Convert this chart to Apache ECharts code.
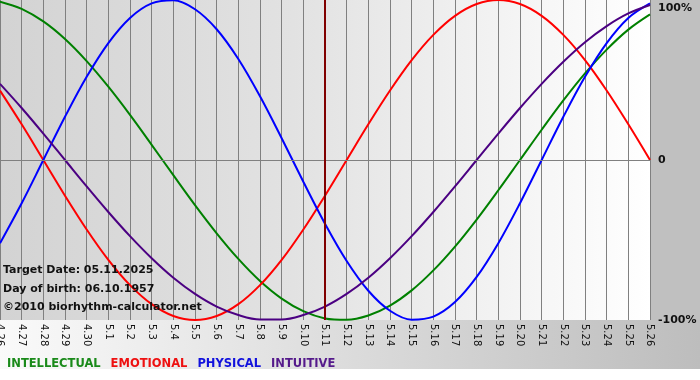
<!DOCTYPE html>
<html>
<head>
<meta charset="utf-8">
<script src="https://cdn.jsdelivr.net/npm/echarts@6/dist/echarts.min.js"></script>
<style>
  html, body { margin: 0; padding: 0; background: #fff; }
  #chart { width: 700px; height: 380px; }
</style>
</head>
<body>
<div id="chart"></div>
<script>
// Days shown on the x axis (month.day)
const days = [
  '4.26', '4.27', '4.28', '4.29', '4.30',
  '5.1', '5.2', '5.3', '5.4', '5.5', '5.6', '5.7', '5.8', '5.9', '5.10',
  '5.11', '5.12', '5.13', '5.14', '5.15', '5.16', '5.17', '5.18', '5.19', '5.20',
  '5.21', '5.22', '5.23', '5.24', '5.25', '5.26'
];
const targetDay = '5.11';

// Cycle values in percent, one per day
const intellectual = [
  99.0, 94.5, 86.6, 75.6, 61.8, 45.8, 28.2, 9.5, -9.5, -28.2, -45.8,
  -61.8, -75.6, -86.6, -94.5, -99.0, -99.9, -97.2, -91.0, -81.5, -69.0,
  -54.1, -37.2, -18.9, 0, 18.9, 37.2, 54.1, 69.0, 81.5, 91.0
];
const emotional = [
  43.4, 22.3, 0, -22.3, -43.4, -62.4, -78.2, -90.1, -97.5, -100, -97.5,
  -90.1, -78.2, -62.4, -43.4, -22.3, 0, 22.3, 43.4, 62.4, 78.2,
  90.1, 97.5, 100, 97.5, 90.1, 78.2, 62.4, 43.4, 22.3, 0
];
const physical = [
  -52.0, -27.0, 0, 27.0, 52.0, 73.1, 88.8, 97.9, 99.8, 94.2, 81.7,
  63.1, 39.8, 13.6, -13.6, -39.8, -63.1, -81.7, -94.2, -99.8, -97.9,
  -88.8, -73.1, -52.0, -27.0, 0, 27.0, 52.0, 73.1, 88.8, 97.9
];
const intuitive = [
  47.6, 32.5, 16.5, 0, -16.5, -32.5, -47.6, -61.4, -73.6, -83.7, -91.6,
  -96.9, -99.7, -99.7, -96.9, -91.6, -83.7, -73.6, -61.4, -47.6, -32.5,
  -16.5, 0, 16.5, 32.5, 47.6, 61.4, 73.6, 83.7, 91.6, 96.9
];

const yTickLabels = { '100': '100%', '0': '0', '-100': '-100%' };
const notes = [
  'Target Date: 05.11.2025',
  'Day of birth: 06.10.1957',
  '\u00a92010 biorhythm-calculator.net'
];

const font = '"DejaVu Sans", Verdana, sans-serif';

const cycles = [
  { name: 'INTELLECTUAL', data: intellectual, color: '#008000', text: '#1a8a1a' },
  { name: 'EMOTIONAL', data: emotional, color: '#ff0000', text: '#ee1111' },
  { name: 'PHYSICAL', data: physical, color: '#0000ff', text: '#1111dd' },
  { name: 'INTUITIVE', data: intuitive, color: '#4b0082', text: '#551a8b' }
];

const chart = echarts.init(document.getElementById('chart'));

const series = cycles.map((c, i) => ({
  name: c.name,
  type: 'line',
  data: c.data,
  smooth: 0.35,
  symbol: 'none',
  lineStyle: { color: c.color, width: 2 },
  itemStyle: { color: c.color },
  z: 3
}));

// zero line + target date line
series[0].markLine = {
  silent: true,
  symbol: 'none',
  label: { show: false },
  animation: false,
  data: [
    { yAxis: 0, lineStyle: { color: '#808080', width: 1, type: 'solid' } },
    { xAxis: targetDay, lineStyle: { color: '#800000', width: 2, type: 'solid' } }
  ]
};

chart.setOption({
  animation: false,
  backgroundColor: '#ffffff',
  textStyle: { fontFamily: font },
  grid: {
    left: 0, top: 0, right: 50, bottom: 60,
    containLabel: false,
    outerBoundsMode: 'none',
    show: true,
    borderWidth: 0,
    backgroundColor: new echarts.graphic.LinearGradient(0, 0, 1, 0, [
      { offset: 0, color: '#d3d3d3' },
      { offset: 0.45, color: '#e2e2e2' },
      { offset: 1, color: '#ffffff' }
    ])
  },
  legend: {
    left: -3,
    top: 353,
    icon: 'rect',
    itemWidth: 0,
    itemHeight: 0,
    itemGap: 5,
    selectedMode: false,
    data: cycles.map(c => ({
      name: c.name,
      textStyle: { color: c.text, fontWeight: 'bold', fontSize: 11.5, fontFamily: font }
    }))
  },
  xAxis: {
    type: 'category',
    data: days,
    boundaryGap: false,
    axisLine: { show: true, lineStyle: { color: '#808080', width: 1 } },
    axisTick: { show: true, interval: 0, length: 4, lineStyle: { color: '#808080' } },
    splitLine: { show: true, interval: 0, lineStyle: { color: '#808080', width: 1 } },
    axisLabel: {
      interval: 0,
      rotate: -90,
      margin: 4,
      fontSize: 10,
      color: '#111',
      fontFamily: font,
      hideOverlap: false
    }
  },
  yAxis: {
    type: 'value',
    position: 'right',
    min: -100,
    max: 100,
    interval: 100,
    axisLine: { show: false },
    axisTick: { show: false },
    splitLine: { show: false },
    axisLabel: {
      margin: 8,
      fontSize: 11,
      fontWeight: 'bold',
      color: '#111',
      fontFamily: font,
      formatter: v => v === 100 ? '{t|' + yTickLabels[v] + '}' : yTickLabels[String(v)],
      rich: {
        t: { fontSize: 11, fontWeight: 'bold', color: '#111', fontFamily: font, padding: [16, 0, 0, 0] }
      }
    }
  },
  graphic: [
    {
      type: 'rect', silent: true, z: -1,
      shape: { x: 650, y: 0, width: 50, height: 320 },
      style: { fill: '#c0c0c0' }
    },
    {
      type: 'rect', silent: true, z: -1,
      shape: { x: 0, y: 320, width: 700, height: 49 },
      style: {
        fill: new echarts.graphic.LinearGradient(0, 0, 1, 0, [
          { offset: 0, color: '#fafafa' },
          { offset: 1, color: '#bdbdbd' }
        ])
      }
    }
  ].concat(notes.map((t, i) => ({
    type: 'text', silent: true, z: 10,
    left: 3, top: 265 + i * 18.5,
    style: { text: t, fill: '#111', font: 'bold 11px ' + font }
  }))),
  series: series
});
</script>
</body>
</html>
